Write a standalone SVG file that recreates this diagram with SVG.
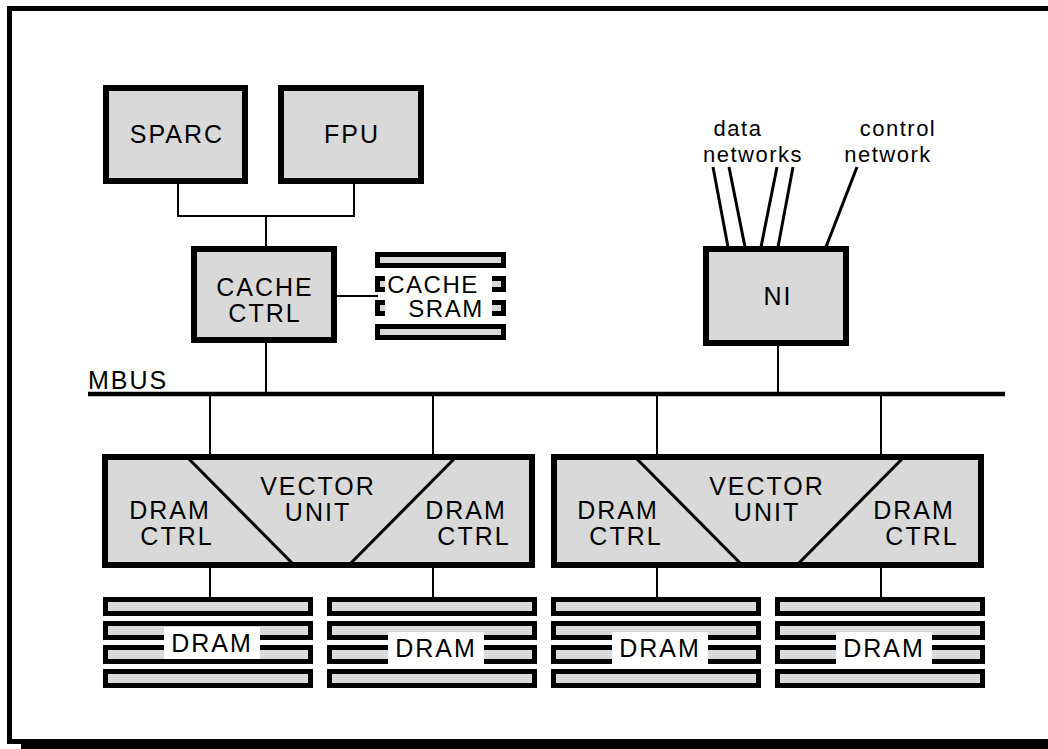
<svg xmlns="http://www.w3.org/2000/svg" width="1048" height="749" viewBox="0 0 1048 749">
<style>
.box{fill:#d9d9d9;stroke:#000;stroke-width:6}
.bar{fill:#d9d9d9;stroke:#000;stroke-width:5}
.ln{stroke:#000;stroke-width:2;fill:none}
.net{stroke:#000;stroke-width:3;fill:none}
.diag{stroke:#000;stroke-width:3;fill:none}
text{font-family:"Liberation Sans",Arial,sans-serif;font-size:25px;letter-spacing:2px;fill:#000;text-anchor:middle}
.sm{font-size:22px;letter-spacing:1.5px}
.sr{font-size:24px;letter-spacing:1.5px}
.lbl{fill:#fff}
</style>
<rect width="1048" height="749" fill="#fff"/>
<g id="frame">
<rect x="21" y="741" width="1040" height="8" fill="#000"/>
<rect x="9.5" y="8.5" width="1100" height="733" fill="none" stroke="#000" stroke-width="5"/>
</g>
<g id="connectors">
<polyline class="ln" points="178,184 178,216 354,216 354,184"/>
<line class="ln" x1="266" y1="216" x2="266" y2="246"/>
<line class="ln" x1="337" y1="296" x2="378" y2="296"/>
<line class="ln" x1="266" y1="343" x2="266" y2="392"/>
<line class="ln" x1="778" y1="346" x2="778" y2="392"/>
<line x1="88" y1="394" x2="1005" y2="394" stroke="#000" stroke-width="4.5"/>
<line class="ln" x1="210" y1="394" x2="210" y2="455"/>
<line class="ln" x1="433" y1="394" x2="433" y2="455"/>
<line class="ln" x1="657" y1="394" x2="657" y2="455"/>
<line class="ln" x1="881" y1="394" x2="881" y2="455"/>
<line class="ln" x1="210" y1="568" x2="210" y2="598"/>
<line class="ln" x1="433" y1="568" x2="433" y2="598"/>
<line class="ln" x1="657" y1="568" x2="657" y2="598"/>
<line class="ln" x1="881" y1="568" x2="881" y2="598"/>
<line class="net" x1="713" y1="167" x2="728" y2="247"/>
<line class="net" x1="729" y1="167" x2="745" y2="247"/>
<line class="net" x1="777" y1="167" x2="761" y2="247"/>
<line class="net" x1="793" y1="167" x2="778" y2="247"/>
<line class="net" x1="857" y1="167" x2="826" y2="247"/>
</g>
<g id="sparc">
<rect class="box" x="106" y="88" width="139" height="93"/>
<text x="177" y="143">SPARC</text>
</g>
<g id="fpu">
<rect class="box" x="281" y="88" width="140" height="93"/>
<text x="352" y="143">FPU</text>
</g>
<g id="cache-ctrl">
<rect class="box" x="194" y="249" width="140" height="91"/>
<text x="265" y="296">CACHE</text>
<text x="265" y="322">CTRL</text>
</g>
<g id="cache-sram">
<rect class="bar" x="377.5" y="254.5" width="126" height="11"/>
<rect class="bar" x="377.5" y="278.5" width="126" height="11"/>
<rect class="bar" x="377.5" y="302.5" width="126" height="11"/>
<rect class="bar" x="377.5" y="326.5" width="126" height="11"/>
<rect class="lbl" x="385" y="268" width="107" height="52"/>
<text class="sr" x="433" y="293">CACHE</text>
<text class="sr" x="446" y="317">SRAM</text>
</g>
<g id="ni">
<rect class="box" x="706" y="249" width="140" height="94"/>
<text x="778" y="305">NI</text>
</g>
<g id="net-labels">
<text class="sm" x="738" y="136">data</text>
<text class="sm" x="753" y="162">networks</text>
<text class="sm" x="898" y="136">control</text>
<text class="sm" x="888" y="162">network</text>
<text x="128" y="389">MBUS</text>
</g>
<g id="vector1">
<rect class="box" x="105" y="457" width="427" height="108"/>
<line class="diag" x1="188" y1="458" x2="296" y2="567"/>
<line class="diag" x1="455" y1="458" x2="347" y2="567"/>
<text x="318" y="495">VECTOR</text>
<text x="318" y="521">UNIT</text>
<text x="170" y="519">DRAM</text>
<text x="177" y="545">CTRL</text>
<text x="466" y="519">DRAM</text>
<text x="474" y="545">CTRL</text>
</g>
<g id="vector2">
<rect class="box" x="554" y="457" width="427" height="108"/>
<line class="diag" x1="636" y1="458" x2="744" y2="567"/>
<line class="diag" x1="903" y1="458" x2="795" y2="567"/>
<text x="767" y="495">VECTOR</text>
<text x="767" y="521">UNIT</text>
<text x="618" y="519">DRAM</text>
<text x="626" y="545">CTRL</text>
<text x="914" y="519">DRAM</text>
<text x="922" y="545">CTRL</text>
</g>
<g id="dram1">
<rect class="bar" x="105.5" y="599.5" width="205" height="14"/>
<rect class="bar" x="105.5" y="623.5" width="205" height="14"/>
<rect class="bar" x="105.5" y="647.5" width="205" height="14"/>
<rect class="bar" x="105.5" y="671.5" width="205" height="14"/>
<rect class="lbl" x="164" y="627" width="96" height="32"/>
<text x="212" y="652">DRAM</text>
</g>
<g id="dram2">
<rect class="bar" x="329.5" y="599.5" width="205" height="14"/>
<rect class="bar" x="329.5" y="623.5" width="205" height="14"/>
<rect class="bar" x="329.5" y="647.5" width="205" height="14"/>
<rect class="bar" x="329.5" y="671.5" width="205" height="14"/>
<rect class="lbl" x="388" y="632" width="96" height="32"/>
<text x="436" y="657">DRAM</text>
</g>
<g id="dram3">
<rect class="bar" x="553.5" y="599.5" width="205" height="14"/>
<rect class="bar" x="553.5" y="623.5" width="205" height="14"/>
<rect class="bar" x="553.5" y="647.5" width="205" height="14"/>
<rect class="bar" x="553.5" y="671.5" width="205" height="14"/>
<rect class="lbl" x="612" y="632" width="96" height="32"/>
<text x="660" y="657">DRAM</text>
</g>
<g id="dram4">
<rect class="bar" x="777.5" y="599.5" width="205" height="14"/>
<rect class="bar" x="777.5" y="623.5" width="205" height="14"/>
<rect class="bar" x="777.5" y="647.5" width="205" height="14"/>
<rect class="bar" x="777.5" y="671.5" width="205" height="14"/>
<rect class="lbl" x="836" y="632" width="96" height="32"/>
<text x="884" y="657">DRAM</text>
</g>
</svg>
